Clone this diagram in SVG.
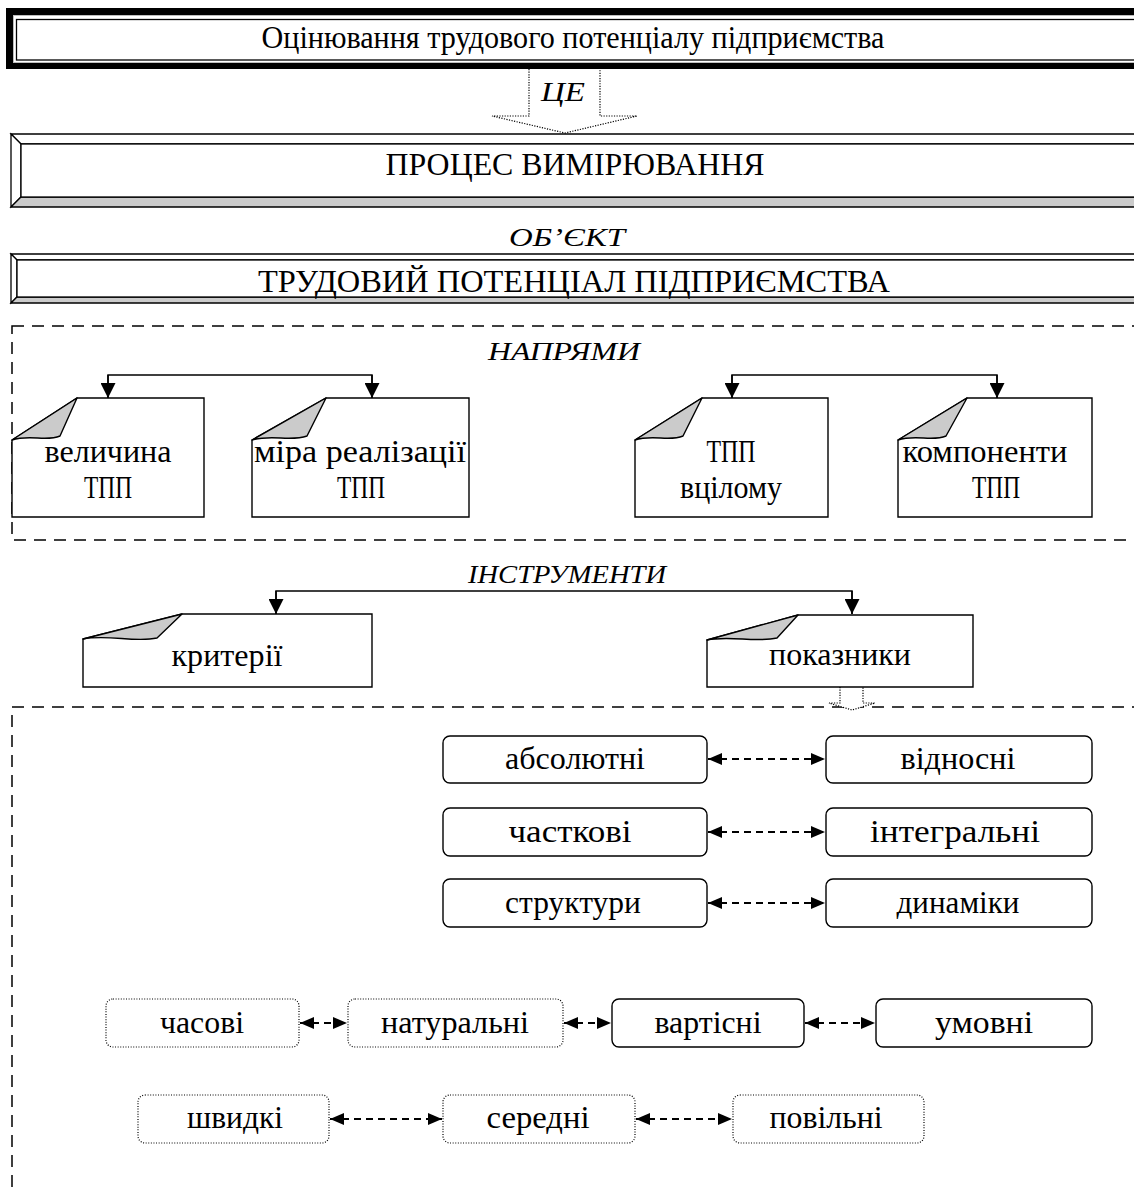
<svg xmlns="http://www.w3.org/2000/svg" width="1134" height="1187" viewBox="0 0 1134 1187">
<defs>
<style>
text{font-family:"Liberation Serif","Times New Roman",serif;fill:#000}
.t{font-size:32px;text-anchor:middle}
.big{font-size:31px;text-anchor:middle}
.lab{font-size:26px;font-style:italic;text-anchor:middle}
.node{fill:#fff;stroke:#000;stroke-width:1.4}
.fold{fill:#cbcbcb;stroke:#000;stroke-width:1.4;stroke-linejoin:round}
.rb{fill:#fff;stroke:#000;stroke-width:1.4}
.db{fill:#fff;stroke:#000;stroke-width:1.2;stroke-dasharray:1 1.6}
.region{fill:none;stroke:#000;stroke-width:1.5;stroke-dasharray:12 8}
.tree{fill:none;stroke:#000;stroke-width:1.5}
.dash{fill:none;stroke:#000;stroke-width:1.8;stroke-dasharray:7 5}
.blk{fill:#fff;stroke:#000;stroke-width:1.2;stroke-dasharray:1.2 1.4}
.bev{stroke:#000;stroke-width:1.3;stroke-linejoin:miter}
</style>
<marker id="ta" viewBox="0 0 10 10" refX="10" refY="5" markerUnits="userSpaceOnUse" markerWidth="15" markerHeight="15" orient="auto">
<path d="M0,0 L10,5 L0,10 Z" fill="#000"/>
</marker>
<marker id="da" viewBox="0 0 10 10" refX="10" refY="5" markerUnits="userSpaceOnUse" markerWidth="14" markerHeight="12" orient="auto-start-reverse" preserveAspectRatio="none">
<path d="M0,0 L10,5 L0,10 Z" fill="#000"/>
</marker>
</defs>

<!-- regions -->
<rect class="region" x="12" y="326" width="1140" height="214"/>
<rect class="region" x="12" y="707" width="1140" height="500"/>

<!-- title -->
<g id="title">
<rect x="6" y="8" width="1140" height="61" fill="#000"/>
<rect x="13.5" y="15.5" width="1126" height="47" fill="#fff" stroke="#bdbdbd" stroke-width="1"/>
<rect x="16.5" y="19.5" width="1120" height="40.5" fill="#fff" stroke="#000" stroke-width="1.3"/>
<text class="big" x="573" y="48" font-size="30" textLength="623" lengthAdjust="spacingAndGlyphs">Оцінювання трудового потенціалу підприємства</text>
</g>

<!-- process -->
<g id="process">
<polygon class="bev" fill="#fff" points="11,134 1145,134 1135,144 21,144"/>
<polygon class="bev" fill="#fff" points="11,134 21,144 21,197 11,207"/>
<polygon class="bev" fill="#cbcbcb" points="11,207 21,197 1135,197 1145,207"/>
<rect x="21" y="144" width="1114" height="53" fill="#fff" stroke="#000" stroke-width="1.3"/>
<text class="big" x="575" y="175" textLength="379" lengthAdjust="spacingAndGlyphs">ПРОЦЕС ВИМІРЮВАННЯ</text>
</g>

<!-- object -->
<g id="potential">
<polygon class="bev" fill="#fff" points="11,254 1145,254 1139,260 17,260"/>
<polygon class="bev" fill="#fff" points="11,254 17,260 17,297 11,303"/>
<polygon class="bev" fill="#cbcbcb" points="11,303 17,297 1139,297 1145,303"/>
<rect x="17" y="260" width="1122" height="37" fill="#fff" stroke="#000" stroke-width="1.3"/>
<text class="big" x="574" y="292" textLength="632" lengthAdjust="spacingAndGlyphs">ТРУДОВИЙ ПОТЕНЦІАЛ ПІДПРИЄМСТВА</text>
</g>

<!-- labels -->
<g id="labels">
<text class="lab" x="567" y="246" textLength="116" lengthAdjust="spacingAndGlyphs">ОБ’ЄКТ</text>
<text class="lab" x="564" y="360" textLength="152" lengthAdjust="spacingAndGlyphs">НАПРЯМИ</text>
<text class="lab" x="567" y="583" textLength="198" lengthAdjust="spacingAndGlyphs">ІНСТРУМЕНТИ</text>
</g>

<!-- connectors -->
<g id="connectors">
<path class="blk" d="M529,69 L529,116 L492,116 L565,133 L637,116 L600,116 L600,69"/>
<text x="563" y="101" font-size="27" font-style="italic" text-anchor="middle" textLength="44" lengthAdjust="spacingAndGlyphs">ЦЕ</text>
<path class="tree" d="M108,398 L108,375 L372,375 L372,398" />
<line class="tree" x1="108" y1="375" x2="108" y2="398" marker-end="url(#ta)"/>
<line class="tree" x1="372" y1="375" x2="372" y2="398" marker-end="url(#ta)"/>
<path class="tree" d="M732,398 L732,375 L997,375 L997,398"/>
<line class="tree" x1="732" y1="375" x2="732" y2="398" marker-end="url(#ta)"/>
<line class="tree" x1="997" y1="375" x2="997" y2="398" marker-end="url(#ta)"/>
<path class="tree" d="M276,614 L276,591 L852,591 L852,614"/>
<line class="tree" x1="276" y1="591" x2="276" y2="614" marker-end="url(#ta)"/>
<line class="tree" x1="852" y1="591" x2="852" y2="614" marker-end="url(#ta)"/>
<path class="blk" d="M840,687 L840,703 L829,703 L852,710 L875,703 L863,703 L863,687"/>
<line class="dash" x1="708" y1="759" x2="825" y2="759" marker-start="url(#da)" marker-end="url(#da)"/>
<line class="dash" x1="708" y1="832" x2="825" y2="832" marker-start="url(#da)" marker-end="url(#da)"/>
<line class="dash" x1="708" y1="903" x2="825" y2="903" marker-start="url(#da)" marker-end="url(#da)"/>
<line class="dash" x1="300" y1="1023" x2="347" y2="1023" marker-start="url(#da)" marker-end="url(#da)"/>
<line class="dash" x1="564" y1="1023" x2="611" y2="1023" marker-start="url(#da)" marker-end="url(#da)"/>
<line class="dash" x1="805" y1="1023" x2="875" y2="1023" marker-start="url(#da)" marker-end="url(#da)"/>
<line class="dash" x1="330" y1="1119" x2="442" y2="1119" marker-start="url(#da)" marker-end="url(#da)"/>
<line class="dash" x1="636" y1="1119" x2="732" y2="1119" marker-start="url(#da)" marker-end="url(#da)"/>
</g>

<!-- direction nodes -->
<g id="n-velychyna">
<path class="node" d="M12,440 L77,398 L204,398 L204,517 L12,517 Z"/>
<path class="fold" d="M77,398 L12,440 C30,434 46,442 60,436 Z"/>
<text class="t" x="108" y="462" textLength="127" lengthAdjust="spacingAndGlyphs">величина</text>
<text class="t" x="108" y="498" textLength="48" lengthAdjust="spacingAndGlyphs">ТПП</text>
</g>
<g id="n-mira">
<path class="node" d="M252,440 L326,398 L469,398 L469,517 L252,517 Z"/>
<path class="fold" d="M326,398 L252,440 C272,434 290,442 307,436 Z"/>
<text class="t" x="360" y="462" textLength="212" lengthAdjust="spacingAndGlyphs">міра реалізації</text>
<text class="t" x="361" y="498" textLength="48" lengthAdjust="spacingAndGlyphs">ТПП</text>
</g>
<g id="n-tpp">
<path class="node" d="M635,440 L702,398 L828,398 L828,517 L635,517 Z"/>
<path class="fold" d="M702,398 L635,440 C653,434 669,442 683,436 Z"/>
<text class="t" x="731" y="462" textLength="49" lengthAdjust="spacingAndGlyphs">ТПП</text>
<text class="t" x="731" y="498" textLength="102" lengthAdjust="spacingAndGlyphs">вцілому</text>
</g>
<g id="n-komponenty">
<path class="node" d="M898,440 L967,398 L1092,398 L1092,517 L898,517 Z"/>
<path class="fold" d="M967,398 L898,440 C916,434 932,442 946,436 Z"/>
<text class="t" x="985" y="462" textLength="165" lengthAdjust="spacingAndGlyphs">компоненти</text>
<text class="t" x="996" y="498" textLength="48" lengthAdjust="spacingAndGlyphs">ТПП</text>
</g>

<!-- instrument nodes -->
<g id="n-kryterii">
<path class="node" d="M83,639 L182,614 L372,614 L372,687 L83,687 Z"/>
<path class="fold" d="M182,614 L83,639 C108,634 135,643 157,638 Z"/>
<text class="t" x="227" y="666" textLength="111" lengthAdjust="spacingAndGlyphs">критерії</text>
</g>
<g id="n-pokaznyky">
<path class="node" d="M707,640 L798,615 L973,615 L973,687 L707,687 Z"/>
<path class="fold" d="M798,615 L707,640 C730,635 755,643 777,638 Z"/>
<text class="t" x="840" y="665" textLength="142" lengthAdjust="spacingAndGlyphs">показники</text>
</g>

<!-- indicator types -->
<g id="n-absolutni"><rect class="rb" x="443" y="736" width="264" height="47" rx="7"/><text class="t" x="575" y="769" textLength="140" lengthAdjust="spacingAndGlyphs">абсолютні</text></g>
<g id="n-vidnosni"><rect class="rb" x="826" y="736" width="266" height="47" rx="7"/><text class="t" x="958" y="769" textLength="115" lengthAdjust="spacingAndGlyphs">відносні</text></g>
<g id="n-chastkovi"><rect class="rb" x="443" y="808" width="264" height="48" rx="7"/><text class="t" x="570" y="842" textLength="123" lengthAdjust="spacingAndGlyphs">часткові</text></g>
<g id="n-intehralni"><rect class="rb" x="826" y="808" width="266" height="48" rx="7"/><text class="t" x="955" y="842" textLength="170" lengthAdjust="spacingAndGlyphs">інтегральні</text></g>
<g id="n-struktury"><rect class="rb" x="443" y="879" width="264" height="48" rx="7"/><text class="t" x="573" y="913" textLength="136" lengthAdjust="spacingAndGlyphs">структури</text></g>
<g id="n-dynamiky"><rect class="rb" x="826" y="879" width="266" height="48" rx="7"/><text class="t" x="958" y="913" textLength="123" lengthAdjust="spacingAndGlyphs">динаміки</text></g>

<g id="n-chasovi"><rect class="db" x="106" y="999" width="193" height="48" rx="7"/><text class="t" x="202" y="1033" textLength="84" lengthAdjust="spacingAndGlyphs">часові</text></g>
<g id="n-naturalni"><rect class="db" x="348" y="999" width="215" height="48" rx="7"/><text class="t" x="455" y="1033" textLength="148" lengthAdjust="spacingAndGlyphs">натуральні</text></g>
<g id="n-vartisni"><rect class="rb" x="612" y="999" width="192" height="48" rx="7"/><text class="t" x="708" y="1033" textLength="107" lengthAdjust="spacingAndGlyphs">вартісні</text></g>
<g id="n-umovni"><rect class="rb" x="876" y="999" width="216" height="48" rx="7"/><text class="t" x="984" y="1033" textLength="98" lengthAdjust="spacingAndGlyphs">умовні</text></g>

<g id="n-shvydki"><rect class="db" x="138" y="1095" width="191" height="48" rx="7"/><text class="t" x="235" y="1128" textLength="96" lengthAdjust="spacingAndGlyphs">швидкі</text></g>
<g id="n-seredni"><rect class="db" x="443" y="1095" width="192" height="48" rx="7"/><text class="t" x="538" y="1128" textLength="103" lengthAdjust="spacingAndGlyphs">середні</text></g>
<g id="n-povilni"><rect class="db" x="733" y="1095" width="191" height="48" rx="7"/><text class="t" x="826" y="1128" textLength="113" lengthAdjust="spacingAndGlyphs">повільні</text></g>
</svg>
